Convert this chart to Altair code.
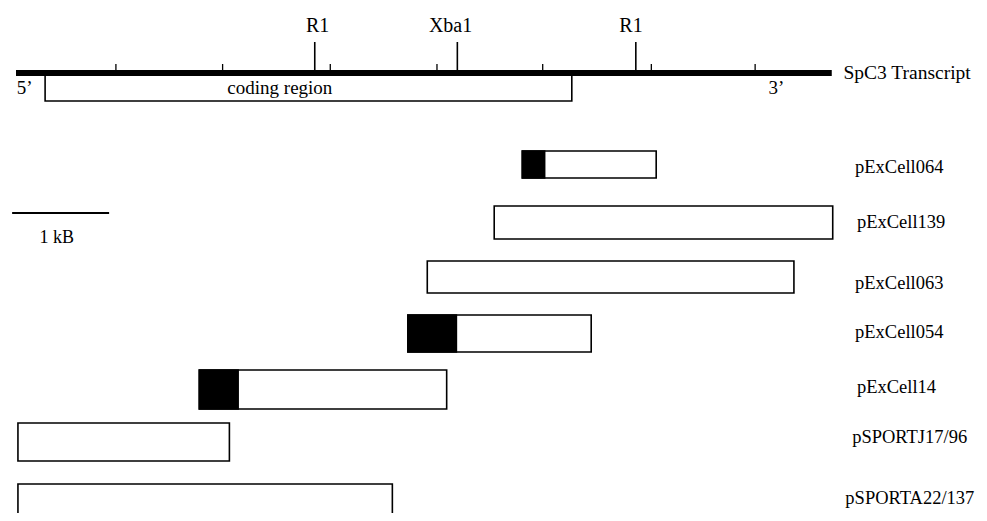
import altair as alt
import pandas as pd

# ---- transcript map (positions in kB from the 5' end) ----
transcript_start = 0.0
transcript_end = 8.41
kb_ticks = [1.03, 2.13, 3.24, 4.34, 5.43, 6.55, 7.62]
site_names = ["R1", "Xba1", "R1"]
site_pos = [3.08, 4.55, 6.39]
site_label_pos = [3.11, 4.48, 6.34]
coding_start = 0.30
coding_end = 5.73

# ---- clones ----
clone_names = ["pExCell064", "pExCell139", "pExCell063", "pExCell054",
               "pExCell14", "pSPORTJ17/96", "pSPORTA22/137"]
clone_start = [5.22, 4.93, 4.24, 4.04, 1.89, 0.02, 0.02]
clone_end = [6.60, 8.42, 8.02, 5.93, 4.44, 2.20, 3.88]
clone_label_pos = [8.65, 8.67, 8.65, 8.65, 8.67, 8.62, 8.55]
# filled (black) leader segments
leader_names = ["pExCell064", "pExCell054", "pExCell14"]
leader_start = [5.22, 4.04, 1.89]
leader_end = [5.45, 4.54, 2.29]

# row layout (vertical position of each clone row)
row_top = [151, 206, 261, 315, 370, 423, 484]
row_bottom = [178, 239, 293, 352, 409, 461, 530]
label_row = [167, 222, 283, 332, 387, 437, 498]

scale_bar = [-0.04, 0.96]

FONT = "Liberation Serif"
W, H = 971, 505
xs = alt.Scale(domain=[-0.0825, 9.928], nice=False, zero=False)
ys = alt.Scale(domain=[8, 513], reverse=True, nice=False, zero=False)


def X(f):
    return alt.X(f, type="quantitative", scale=xs, axis=None)


def Y(f):
    return alt.Y(f, type="quantitative", scale=ys, axis=None)


# coding region box
coding_df = pd.DataFrame({"x": [coding_start], "x2": [coding_end], "y": [75], "y2": [101]})
coding = alt.Chart(coding_df).mark_rect(fill="white", stroke="black", strokeWidth=1.6).encode(
    x=X("x"), x2="x2", y=Y("y"), y2="y2")

# transcript line
tr_df = pd.DataFrame({"x": [transcript_start], "x2": [transcript_end], "y": [70], "y2": [76]})
transcript = alt.Chart(tr_df).mark_rect(fill="black").encode(
    x=X("x"), x2="x2", y=Y("y"), y2="y2")

# small kB ticks
tick_df = pd.DataFrame({"x": kb_ticks, "y": [64] * len(kb_ticks), "y2": [71] * len(kb_ticks)})
ticks = alt.Chart(tick_df).mark_rule(color="black", strokeWidth=1.3).encode(
    x=X("x"), y=Y("y"), y2="y2")

# restriction sites
site_df = pd.DataFrame({"name": site_names, "x": site_pos, "lx": site_label_pos,
                        "y": [42] * 3, "y2": [73] * 3, "ly": [26] * 3})
sites = alt.Chart(site_df).mark_rule(color="black", strokeWidth=1.6).encode(
    x=X("x"), y=Y("y"), y2="y2")
site_labels = alt.Chart(site_df).mark_text(
    font=FONT, fontSize=20, color="black", align="center", baseline="middle"
).encode(x=X("lx"), y=Y("ly"), text="name:N")

# annotation texts on the transcript
ann_df = pd.DataFrame({
    "text": ["coding region", "5\u2019", "3\u2019"],
    "x": [2.72, 0.09, 7.84],
    "y": [88, 88, 88],
})
ann = alt.Chart(ann_df).mark_text(
    font=FONT, fontSize=19, color="black", align="center", baseline="middle"
).encode(x=X("x"), y=Y("y"), text="text:N")

title_df = pd.DataFrame({"text": ["SpC3 Transcript"], "x": [8.53], "y": [73]})
title = alt.Chart(title_df).mark_text(
    font=FONT, fontSize=19.5, color="black", align="left", baseline="middle"
).encode(x=X("x"), y=Y("y"), text="text:N")

# clones
clone_df = pd.DataFrame({"name": clone_names, "x": clone_start, "x2": clone_end,
                         "y": row_top, "y2": row_bottom,
                         "lx": clone_label_pos, "ly": label_row})
clones = alt.Chart(clone_df).mark_rect(fill="white", stroke="black", strokeWidth=1.6).encode(
    x=X("x"), x2="x2", y=Y("y"), y2="y2")
clone_labels = alt.Chart(clone_df).mark_text(
    font=FONT, fontSize=18.5, color="black", align="left", baseline="middle"
).encode(x=X("lx"), y=Y("ly"), text="name:N")

lead_rows = [clone_names.index(n) for n in leader_names]
lead_df = pd.DataFrame({"name": leader_names, "x": leader_start, "x2": leader_end,
                        "y": [row_top[i] for i in lead_rows],
                        "y2": [row_bottom[i] for i in lead_rows]})
leaders = alt.Chart(lead_df).mark_rect(fill="black", stroke="black", strokeWidth=1.6).encode(
    x=X("x"), x2="x2", y=Y("y"), y2="y2")

# scale bar
sb_df = pd.DataFrame({"x": [scale_bar[0]], "x2": [scale_bar[1]], "y": [213]})
sbar = alt.Chart(sb_df).mark_rule(color="black", strokeWidth=2).encode(
    x=X("x"), x2="x2", y=Y("y"))
sbt_df = pd.DataFrame({"text": ["1 kB"], "x": [0.42], "y": [238]})
sbt = alt.Chart(sbt_df).mark_text(
    font=FONT, fontSize=18, color="black", align="center", baseline="middle"
).encode(x=X("x"), y=Y("y"), text="text:N")

chart = alt.layer(
    coding, transcript, ticks, sites, site_labels, ann, title,
    clones, leaders, clone_labels, sbar, sbt
).properties(
    width=W, height=H, padding=0, autosize=alt.AutoSizeParams(type="none"),
    background="white"
).configure_view(stroke=None)

chart.save("out.html", embed_options={"renderer": "svg", "actions": False})
